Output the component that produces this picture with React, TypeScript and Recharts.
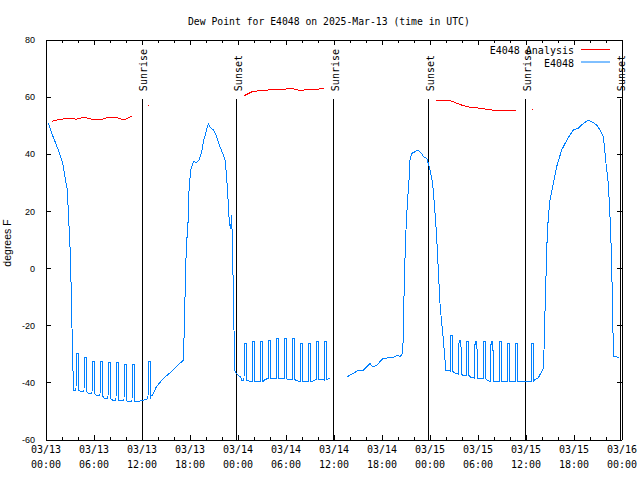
import React from "react";
import { LineChart, Line, XAxis, YAxis, ReferenceLine } from "recharts";

// hours since 03/13 00:00 UTC
const xTicks = [0, 2, 4, 6, 8, 10, 12, 14, 16, 18, 20, 22, 24, 26, 28, 30, 32, 34, 36, 38, 40, 42, 44, 46, 48, 50, 52, 54, 56, 58, 60, 62, 64, 66, 68, 70, 72];
const majorHours = [0, 6, 12, 18, 24, 30, 36, 42, 48, 54, 60, 66, 72];
const dayLabels = ["03/13", "03/13", "03/13", "03/13", "03/14", "03/14", "03/14", "03/14", "03/15", "03/15", "03/15", "03/15", "03/16"];
const timeLabels = ["00:00", "06:00", "12:00", "18:00", "00:00", "06:00", "12:00", "18:00", "00:00", "06:00", "12:00", "18:00", "00:00"];
const yTicks = [-60, -40, -20, 0, 20, 40, 60, 80];

const sunHours = [12.0, 23.83, 35.95, 47.85, 59.95, 71.75];
const sunLabels = ["Sunrise", "Sunset", "Sunrise", "Sunset", "Sunrise", "Sunset"];

// E4048 Analysis (hourly, null = no value)
const redHours = [
  0.75, 1.75, 2.75, 3.75, 4.75, 5.75, 6.75, 7.75, 8.75, 9.75, 10.75, 11.75, 12.75, 13.75,
  24.75, 25.75, 26.75, 27.75, 28.75, 29.75, 30.75, 31.75, 32.75, 33.75, 34.75, 35.75,
  48.75, 49.75, 50.75, 51.75, 52.75, 53.75, 54.75, 55.75, 56.75, 57.75, 58.75, 59.75, 60.75,
];
const redValues = [
  51.6, 52.2, 52.6, 52.3, 52.9, 52.3, 52.0, 52.9, 52.9, 52.0, 53.4, null, 57.2, null,
  60.5, 61.9, 62.3, 62.5, 62.7, 62.8, 63.0, 62.3, 62.7, 62.7, 63.1, null,
  59.0, 59.0, 58.6, 57.4, 56.6, 56.3, 55.9, 55.5, 55.5, 55.2, 55.2, null, 55.85,
];

// E4048 observations [hour, dew point]
const blueLine: [number, number | null][] = [
  [0.29, 50.8], [0.91, 46], [1.54, 41.5], [2.09, 37], [2.38, 32], [2.66, 27.5], [2.84, 17], [3.0, 7.7], [3.13, -5], [3.25, -20.8], [3.34, -32.6], [3.45, -42.5],
  [4.3, -43], [5.3, -43.7], [6.3, -44.5], [7.3, -45.4], [8.3, -46], [9.3, -46.3], [10.3, -46.6], [11.3, -46.6], [11.9, -46.3], [12.5, -45.8],
  [13.1, -44.5], [13.3, -44.5], [13.8, -41.3], [14.7, -38.4], [15.9, -35.5], [17.17, -32],
  [17.29, -20.9], [17.46, 0.5], [17.58, 10], [17.71, 12.4], [17.88, 27.5], [18.08, 34.5], [18.29, 36.2], [18.42, 37.4], [18.83, 37.2], [19.13, 38],
  [19.46, 40.9], [19.67, 44.4], [19.96, 47.3], [20.29, 50.8], [20.5, 49.6], [20.92, 48.5], [21.33, 46.2], [21.75, 42.7], [22.08, 40.3], [22.38, 38],
  [22.58, 32.2], [22.79, 22.8], [22.92, 15.8], [23.08, 14], [23.21, 18.7], [23.33, 5.3], [23.5, -21.5], [23.63, -36.1], [24.17, -37.8], [24.33, -37.8], [24.46, -39],
  [25.3, -39.3], [26.3, -39.6], [27.3, -39], [28.3, -38.4], [29.3, -38.4], [30.3, -38.8], [31.3, -39.2], [32.3, -39.6], [33.3, -39.4], [34.3, -38.8], [35.1, -38.8], [35.5, -38.5],
  [36.6, null],
  [37.67, -37.8], [38.42, -36.7], [39.04, -35.5], [39.67, -35.5], [40.5, -33.2], [40.83, -34.4], [41.33, -33.8], [42.17, -31.4], [43, -31.2], [43.42, -31], [44.04, -30.3], [44.25, -30.9], [44.58, -29.7],
  [44.67, -22.7], [44.75, -9.8], [44.88, 4.2], [45, 13.5], [45.17, 22.8], [45.38, 31], [45.5, 38], [45.71, 40.3], [46.13, 40.9], [46.46, 41.5], [46.96, 40.3],
  [47.17, 39.2], [47.58, 38.6], [47.79, 36.8], [48, 34.5], [48.33, 29.8], [48.54, 22.8], [48.75, 14.7], [48.92, 6.5], [49.08, -2.8], [49.25, -12.2], [49.46, -19.2], [49.58, -22.1], [49.67, -25], [49.88, -32], [49.96, -35.5], [50.3, -35.5],
  [51.1, -36.5], [52.1, -37.3], [53.1, -38], [54.1, -38.4], [55.1, -39], [56.1, -39.6], [57.1, -39.6], [58.2, -39.6], [59.2, -39.6], [60.3, -39.6],
  [61.13, -38.8], [61.54, -38.2], [62.17, -34.9], [62.25, -28.5], [62.38, -14.5], [62.5, -2.8], [62.58, 6.5], [62.79, 18.2], [63, 24], [63.42, 29.8], [63.83, 35.6],
  [64.46, 41.5], [64.88, 43.8], [65.5, 46.8], [65.92, 48.5], [66.54, 49.1], [67.17, 50.8], [67.79, 52], [68.2, 51.4], [68.83, 50.3], [69.25, 48.5], [69.67, 46.2],
  [70, 36.8], [70.29, 29.8], [70.5, 18.2], [70.71, 3], [70.83, -19.2], [71, -30.9], [71.63, -31],
];

// short hourly spikes [hour, level before, peak]
const blueSpikes: [number, number, number][] = [
  [3.78, -42.5, -29.6], [4.78, -43, -31], [5.78, -43.7, -32.6], [6.78, -44.5, -32.6], [7.78, -45.4, -33], [8.78, -46, -33], [9.78, -46.3, -33.5], [10.78, -46.6, -33.5], [12.78, -45.5, -32.6],
  [24.78, -39, -26.2], [25.8, -39.6, -25.6], [26.8, -39.6, -25.6], [27.8, -38.4, -25], [28.8, -38.4, -24.4], [29.8, -38.6, -24.4], [30.8, -38.8, -24.6], [31.8, -39.6, -26.2], [32.85, -39.6, -26.2], [33.8, -38.8, -25.6], [34.8, -39, -25.6],
  [50.58, -36, -23.3], [51.63, -37, -25], [52.58, -37.3, -25.6], [53.63, -38.4, -25.6], [54.67, -38.4, -25.6], [55.63, -39.6, -25.6], [56.67, -39.6, -25.6], [57.67, -39.6, -26.2], [58.71, -39.6, -26.2], [60.71, -39.6, -26.2],
];

const PLOT_W = 576;
const PLOT_H = 400;
const MONO = "'DejaVu Sans Mono', monospace";
const SANS = "'Liberation Sans', Arial, sans-serif";
const SUN_LINE_TOP = 59.3;

const redData = redHours.map((h, i) => ({
  h,
  v: redValues[i],
  iso: redValues[i] != null && redValues[i - 1] == null && redValues[i + 1] == null,
}));

const blueData: { h: number; v: number | null }[] = blueLine.map(([h, v]) => ({ h, v }));
blueSpikes.forEach(([t, b, p]) => {
  blueData.push({ h: t - 0.03, v: b }, { h: t, v: p }, { h: t + 0.24, v: p }, { h: t + 0.27, v: b });
});
blueData.sort((a, b) => a.h - b.h);

function XTick(props: any) {
  const { x, y, payload } = props;
  const i = majorHours.indexOf(payload.value);
  const len = i >= 0 ? 5 : 3;
  return (
    <g>
      <line x1={x} x2={x} y1={y} y2={y - len} stroke="#000" shapeRendering="crispEdges" />
      <line x1={x} x2={x} y1={y - PLOT_H} y2={y - PLOT_H + len} stroke="#000" shapeRendering="crispEdges" />
      {i >= 0 && (
        <text x={x} y={y + 12.5} textAnchor="middle" fontFamily={MONO} fontSize={10} fill="#000">
          <tspan x={x}>{dayLabels[i]}</tspan>
          <tspan x={x} dy={15}>{timeLabels[i]}</tspan>
        </text>
      )}
    </g>
  );
}

function YTick(props: any) {
  const { x, y, payload } = props;
  return (
    <g>
      <line x1={x} x2={x + 5} y1={y} y2={y} stroke="#000" shapeRendering="crispEdges" />
      <line x1={x + PLOT_W} x2={x + PLOT_W - 5} y1={y} y2={y} stroke="#000" shapeRendering="crispEdges" />
      <text x={x - 11} y={y} dy="0.35em" textAnchor="end" fontFamily={SANS} fontSize={9} fill="#000">
        {payload.value}
      </text>
    </g>
  );
}

function RedDot(p: any) {
  if (!p.payload || !p.payload.iso || p.cx == null || p.cy == null) return <g key={p.index} />;
  return <rect key={p.index} x={Math.floor(p.cx)} y={Math.floor(p.cy)} width={1} height={1} fill="#ff0000" />;
}

function SunShape(label: string) {
  return (p: any) => {
    const { x1, y1, x2, y2 } = p;
    return (
      <g>
        <line x1={x1} y1={y1} x2={x2} y2={y2} stroke="#000" shapeRendering="crispEdges" />
        <text
          x={x1 + 5}
          y={y1 - 8}
          transform={`rotate(-90 ${x1 + 5} ${y1 - 8})`}
          fontFamily={MONO}
          fontSize={10}
          fill="#000"
        >
          {label}
        </text>
      </g>
    );
  };
}

export default function App() {
  return (
    <div style={{ position: "absolute", left: 0, top: 0, width: 640, height: 480, background: "#fff" }}>
      <LineChart width={640} height={480} margin={{ top: 40, right: 18, bottom: 0, left: 0 }}>
        <XAxis
          dataKey="h"
          type="number"
          domain={[0, 72]}
          ticks={xTicks}
          interval={0}
          allowDataOverflow
          height={40}
          tickSize={0}
          tickMargin={0}
          tickLine={false}
          tick={XTick}
          axisLine={{ stroke: "#000", shapeRendering: "crispEdges" }}
        />
        <YAxis
          type="number"
          domain={[-60, 80]}
          ticks={yTicks}
          interval={0}
          allowDataOverflow
          width={46}
          tickSize={0}
          tickMargin={0}
          tickLine={false}
          tick={YTick}
          axisLine={{ stroke: "#000", shapeRendering: "crispEdges" }}
        />
        <ReferenceLine y={80} stroke="#000" shapeRendering="crispEdges" />
        <ReferenceLine x={72} stroke="#000" shapeRendering="crispEdges" />
        {sunHours.map((t, i) => (
          <ReferenceLine
            key={`sun-${i}`}
            segment={[{ x: t, y: SUN_LINE_TOP }, { x: t, y: -60 }]}
            stroke="#000"
            shape={SunShape(sunLabels[i])}
          />
        ))}
        <Line
          data={redData}
          dataKey="v"
          type="linear"
          stroke="#ff0000"
          strokeWidth={1}
          dot={RedDot}
          activeDot={false}
          connectNulls={false}
          isAnimationActive={false}
          shapeRendering="crispEdges"
        />
        <Line
          data={blueData}
          dataKey="v"
          type="linear"
          stroke="#0080ff"
          strokeWidth={1}
          dot={false}
          activeDot={false}
          connectNulls={false}
          isAnimationActive={false}
          shapeRendering="crispEdges"
        />
      </LineChart>
      <svg width={640} height={480} style={{ position: "absolute", left: 0, top: 0, pointerEvents: "none" }}>
        <text x={188} y={24.5} fontFamily={MONO} fontSize={9.75} fill="#000">
          Dew Point for E4048 on 2025-Mar-13 (time in UTC)
        </text>
        <text
          x={10.5}
          y={243}
          transform="rotate(-90 10.5 243)"
          textAnchor="middle"
          fontFamily={SANS}
          fontSize={10.5}
          fill="#000"
        >
          degrees F
        </text>
        <text x={574} y={54} textAnchor="end" fontFamily={MONO} fontSize={10} fill="#000">
          E4048 Analysis
        </text>
        <line x1={581} x2={610} y1={49.5} y2={49.5} stroke="#ff0000" />
        <text x={574} y={66.5} textAnchor="end" fontFamily={MONO} fontSize={10} fill="#000">
          E4048
        </text>
        <line x1={581} x2={610} y1={62} y2={62} stroke="#0080ff" />
      </svg>
    </div>
  );
}
